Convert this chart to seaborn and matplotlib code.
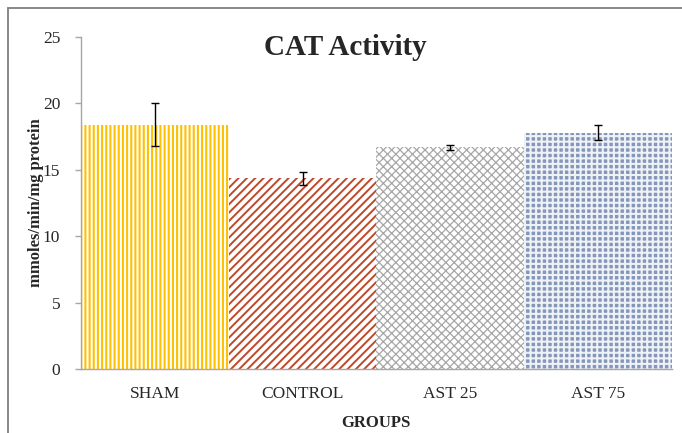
import matplotlib
matplotlib.use("Agg")
import matplotlib.pyplot as plt
import numpy as np
import pandas as pd
import seaborn as sns
from matplotlib.patches import Rectangle

# values
groups = ["SHAM", "CONTROL", "AST 25", "AST 75"]
cat_mean = [18.4, 14.35, 16.7, 17.8]
cat_err = [1.62, 0.48, 0.2, 0.57]

hatch_style = ["||||", "////", "xxxx", "+++"]
hatch_color = ["#FFC000", "#C0482A", "#A6A6A6", "#EEF1F6"]
face_color = ["white", "white", "white", "#8497B9"]

df = pd.DataFrame({"group": groups, "activity": cat_mean})

sns.set_style("white")
plt.rcParams["font.family"] = ["Liberation Serif", "DejaVu Serif"]
plt.rcParams["hatch.linewidth"] = 1.4

fig = plt.figure(figsize=(6.82, 4.33), dpi=100)
ax = fig.add_axes([0.1188, 0.1478, 0.8662, 0.7667])

sns.barplot(data=df, x="group", y="activity", width=1.0, ax=ax,
            errorbar=None, color="white")

for i, bar in enumerate(ax.patches):
    bar.set_facecolor(face_color[i])
    bar.set_edgecolor(hatch_color[i])
    bar.set_hatch(hatch_style[i])
    bar.set_linewidth(0)
    if hasattr(bar, "set_hatch_linewidth"):
        bar.set_hatch_linewidth([1.5, 1.4, 0.9, 1.5][i])

ax.errorbar(np.arange(len(groups)), cat_mean, yerr=cat_err, fmt="none",
            ecolor="black", elinewidth=1.0, capsize=3, capthick=1.0)

ax.set_xlim(-0.5, len(groups) - 0.5)
ax.set_ylim(0, 25)
ax.set_yticks([0, 5, 10, 15, 20, 25])

for side in ["top", "right"]:
    ax.spines[side].set_visible(False)
for side in ["left", "bottom"]:
    ax.spines[side].set_color("#A6A6A6")
    ax.spines[side].set_linewidth(1.0)

ax.tick_params(axis="y", left=True, length=4, width=1, color="#A6A6A6",
               labelsize=12.5, pad=11, labelcolor="#262626")
ax.tick_params(axis="x", bottom=False, labelsize=12.5, pad=9,
               labelcolor="#262626")

ax.set_xlabel("GROUPS", fontsize=12, fontweight="bold", labelpad=9)
ax.set_ylabel("mmoles/min/mg protein", fontsize=12, fontweight="bold",
              labelpad=-1)
fig.text(0.506, 0.89, "CAT Activity", ha="center", va="center",
         fontsize=21, fontweight="bold")

# outer chart frame
fig.patches.append(Rectangle((8 / 682, -0.05), 1.0, 1 - 8 / 433 + 0.05,
                             transform=fig.transFigure, fill=False,
                             edgecolor="#7F7F7F", linewidth=1.3))

fig.savefig("out.png", dpi=100)
